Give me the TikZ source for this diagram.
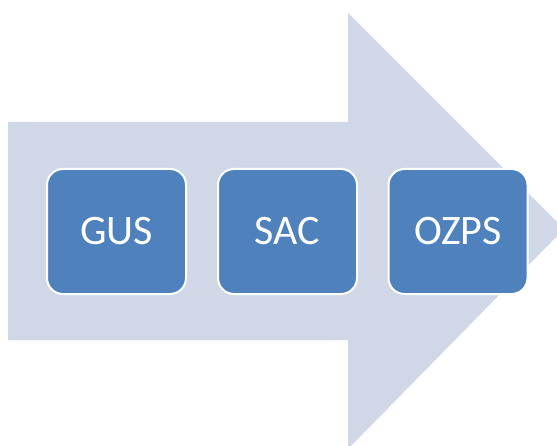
\documentclass[tikz,border=0pt]{standalone}
\usepackage{fontspec}
\setmainfont{Carlito}
\definecolor{arrowfill}{HTML}{D0D8E8}
\definecolor{boxfill}{HTML}{4F81BD}
\tikzset{
  stagebox/.style={draw=white,line width=2pt,fill=boxfill,rounded corners=16pt,
    minimum width=139pt,minimum height=125pt,text=white,
    font=\fontsize{42}{50}\selectfont}
}
\begin{document}
\begin{tikzpicture}[x=1pt,y=1pt,line join=round]
			\useasboundingbox (0,0) rectangle (557,445);
			\clip (0,0) rectangle (557,445);
			%%Mũi tên
			\path
			(8,105)coordinate(B1)++(0,218)coordinate(B2)++(340,0)coordinate(H1)++(0,109)coordinate(H2)
			(564,216)coordinate(T)
			(H1)++(0,-218)coordinate(H4)++(0,-109)coordinate(H3)
			;
			\fill[arrowfill] (B1)--(B2)--(H1)--(H2)--(T)--(H3)--(H4)--cycle;
			%%Các ô
			\foreach \n/\t/\x in {gus/GUS/116.5,sac/SAC/287.5,ozps/OZPS/458}{
					\node[stagebox] (\n) at (\x,213.5) {\t};
				}
		\end{tikzpicture}
\end{document}
